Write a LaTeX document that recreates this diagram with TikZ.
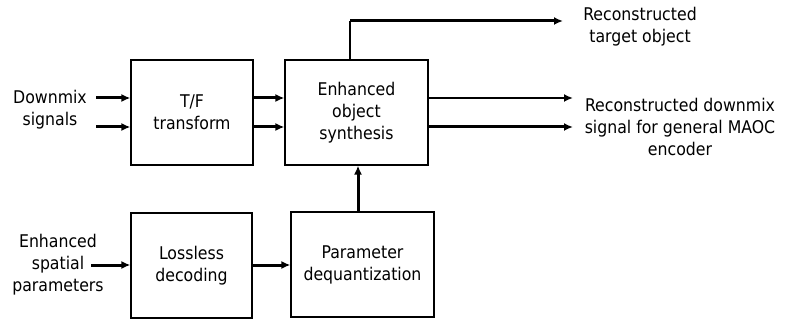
\documentclass[tikz,border=0pt]{standalone}
\usepackage{fontspec}
\setmainfont{DejaVu Sans Condensed}
\usepackage{tikz}
\usetikzlibrary{arrows.meta,positioning,calc}
\tikzset{
  sigarrow/.style={-{Latex[length=9pt,width=8pt]},line width=3pt},
  thinline/.style={line width=1.2pt},
  block/.style={draw,line width=1.2pt,minimum height=105pt,align=center,
    font=\fontsize{17.5}{22}\selectfont,inner sep=0pt},
  lbl/.style={align=center,font=\fontsize{17.5}{22}\selectfont,inner sep=0pt}
}
\begin{document}
\begin{tikzpicture}[x=1pt,y=-1pt]
  \useasboundingbox (0,0) rectangle (786,320);
  \node[block,minimum width=122pt] (tf) at (192,112.5) {T/F\\transform};
  \node[block,minimum width=143pt] (syn) at (356.5,112.5) {Enhanced\\object\\synthesis};
  \node[block,minimum width=121pt] (dec) at (191.5,265.5) {Lossless\\decoding};
  \node[block,minimum width=143pt] (deq) at (362.5,264.5) {Parameter\\dequantization};
  \node[lbl] (dmx) at (50,110) {Downmix\\signals};
  \node[lbl] (par) at (58,265) {Enhanced\\spatial\\parameters};
  \node[lbl] (tgt) at (640,27) {Reconstructed\\target object};
  \node[lbl] (out) at (680,127) {Reconstructed downmix\\signal for general MAOC\\encoder};
  % inputs
  \coordinate (dmx1) at (96,98);
  \coordinate (dmx2) at (96,127);
  \draw[sigarrow] (dmx1) -- (tf.west |- dmx1);
  \draw[sigarrow] (dmx2) -- (tf.west |- dmx2);
  \draw[sigarrow] (tf.east |- dmx1) -- (syn.west |- dmx1);
  \draw[sigarrow] (tf.east |- dmx2) -- (syn.west |- dmx2);
  \coordinate (parin) at (91,265);
  \draw[sigarrow] (parin) -- (dec.west |- parin);
  \draw[sigarrow] (dec.east |- parin) -- (deq.west |- parin);
  \draw[sigarrow] (deq.north -| 358,0) -- (syn.south -| 358,0);
  % outputs
  \coordinate (bend) at (350,21);
  \draw[thinline] (syn.north -| bend) -- (bend);
  \draw[sigarrow] (bend) -- (563,21);
  \draw[sigarrow,line width=2.2pt] (syn.east |- dmx1) -- (573,98);
  \draw[sigarrow] (syn.east |- dmx2) -- (573,127);
\end{tikzpicture}
\end{document}
